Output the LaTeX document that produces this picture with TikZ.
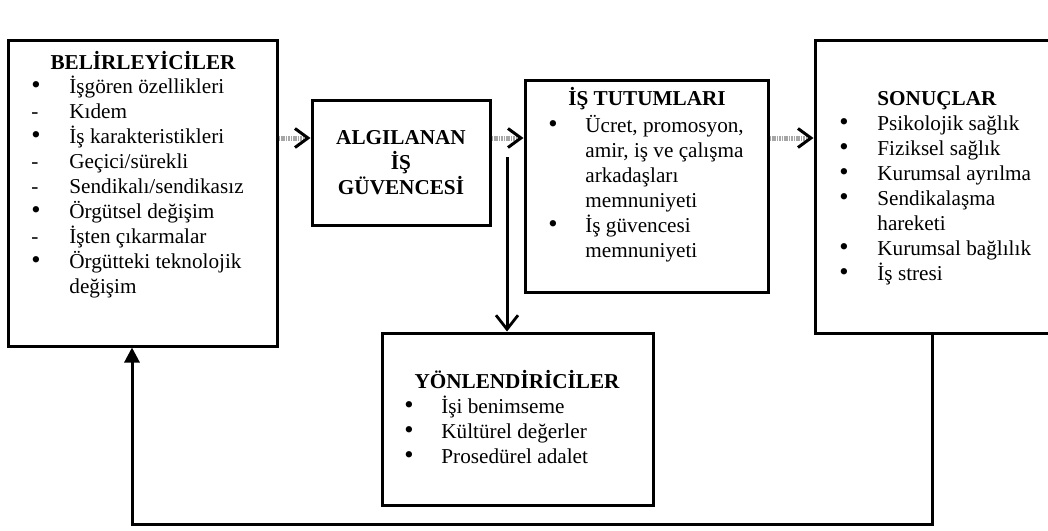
\documentclass[tikz,border=0pt]{standalone}
\usepackage{fontspec}
\setmainfont{Liberation Serif}
\usetikzlibrary{arrows.meta}
\newcommand{\blt}{\raisebox{-0.1ex}{\scalebox{1.25}{\textbullet}}}

\begin{document}
\begin{tikzpicture}[x=0.5pt, y=-0.5pt,
    box/.style={rectangle, draw, line width=1.5pt, fill=white, inner sep=0pt},
    txt/.style={inner sep=0pt, font=\fontsize{10.6}{12.5}\selectfont},
    hdr/.style={inner sep=0pt, font=\fontsize{10.6}{12.5}\selectfont\bfseries},
    flow/.style={line width=2.5pt, color=gray!70, dash pattern=on 0.8pt off 0.4pt, -{Straight Barb[color=black, length=6.5pt, width=9.5pt, line width=1.5pt]}},
    modarrow/.style={line width=1.5pt, -{Straight Barb[length=7pt, width=11pt, line width=1.4pt]}},
    back/.style={line width=1.5pt, -{Triangle[length=7.5pt, width=7.5pt]}}]
    \useasboundingbox (0,0) rectangle (1048,530);
    \clip (0,0) rectangle (1048,530);

    % Boxes
    \node[box, minimum width=134.5pt, minimum height=153pt] (bel) at (142.5,193) {};
    \node[box, minimum width=89pt, minimum height=62.5pt, align=center,
          font=\fontsize{10.6}{12.5}\selectfont\bfseries] (alg) at (401,162.5)
          {ALGILANAN\\İŞ\\GÜVENCESİ};
    \node[box, minimum width=121.5pt, minimum height=106pt] (tut) at (646.5,186) {};
    \node[box, minimum width=120.5pt, minimum height=146.5pt] (son) at (935.5,186.5) {};
    \node[box, minimum width=135.5pt, minimum height=86pt] (yon) at (517.5,419) {};

    % Belirleyiciler
    \node[hdr, anchor=base] (belH) at (143,69) {BELİRLEYİCİLER};
    \node[txt, anchor=base west] (belL) at (31,93) {\begin{tabular}[t]{@{}p{19pt}@{}l@{}}
        \blt & İşgören özellikleri\\
        - & Kıdem\\
        \blt & İş karakteristikleri\\
        - & Geçici/sürekli\\
        - & Sendikalı/sendikasız\\
        \blt & Örgütsel değişim\\
        - & İşten çıkarmalar\\
        \blt & Örgütteki teknolojik\\
        & değişim
    \end{tabular}};

    % Is tutumlari
    \node[hdr, anchor=base] (tutH) at (647,105) {İŞ TUTUMLARI};
    \node[txt, anchor=base west] (tutL) at (548,132) {\begin{tabular}[t]{@{}p{18.5pt}@{}l@{}}
        \blt & Ücret, promosyon,\\
        & amir, iş ve çalışma\\
        & arkadaşları\\
        & memnuniyeti\\
        \blt & İş güvencesi\\
        & memnuniyeti
    \end{tabular}};

    % Sonuclar
    \node[hdr, anchor=base west] (sonH) at (877,105) {SONUÇLAR};
    \node[txt, anchor=base west] (sonL) at (839,130) {\begin{tabular}[t]{@{}p{19pt}@{}l@{}}
        \blt & Psikolojik sağlık\\
        \blt & Fiziksel sağlık\\
        \blt & Kurumsal ayrılma\\
        \blt & Sendikalaşma\\
        & hareketi\\
        \blt & Kurumsal bağlılık\\
        \blt & İş stresi
    \end{tabular}};

    % Yonlendiriciler
    \node[hdr, anchor=base] (yonH) at (517,388) {YÖNLENDİRİCİLER};
    \node[txt, anchor=base west] (yonL) at (404,413) {\begin{tabular}[t]{@{}p{18.5pt}@{}l@{}}
        \blt & İşi benimseme\\
        \blt & Kültürel değerler\\
        \blt & Prosedürel adalet
    \end{tabular}};

    % Connectors
    \coordinate (lvl) at (0,138);
    \coordinate (mod) at (507,157);
    \coordinate (fbR) at (932,524);
    \coordinate (fbL) at (132,524);
    \draw[flow] (bel.east |- lvl) -- (alg.west |- lvl);
    \draw[flow] (alg.east |- lvl) -- (tut.west |- lvl);
    \draw[flow] (tut.east |- lvl) -- (son.west |- lvl);
    \draw[modarrow] (mod) -- (yon.north -| mod);
    \draw[back] (son.south -| fbR) -- (fbR) -- (fbL) -- (bel.south -| fbL);
\end{tikzpicture}
\end{document}
